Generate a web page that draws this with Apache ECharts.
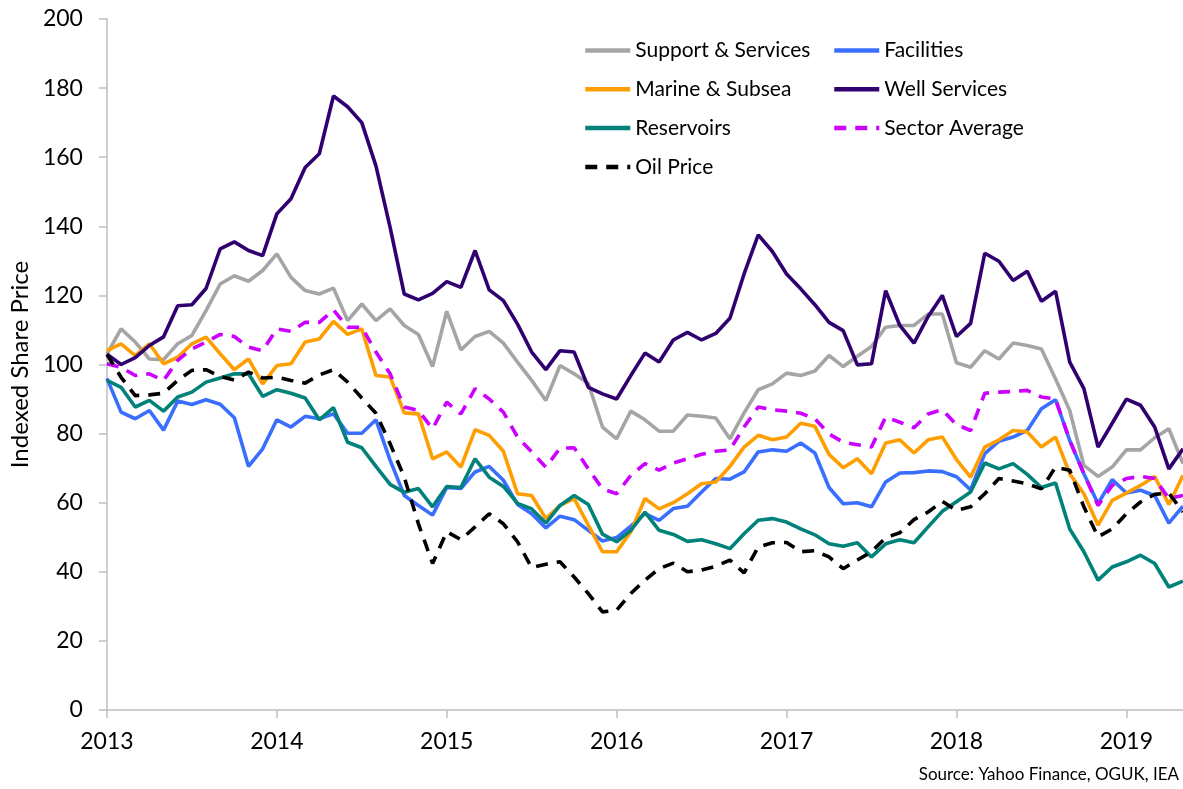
<!DOCTYPE html>
<html>
<head>
<meta charset="utf-8">
<script src="https://cdn.jsdelivr.net/npm/echarts@6/dist/echarts.min.js"></script>
<style>
	html, body { margin: 0; padding: 0; background: #fff; }
	#chart { width: 1183px; height: 789px; }
</style>
</head>
<body>
<div id="chart"></div>
<script>
// monthly points, Jan 2013 .. May 2019
const startYear = 2013;
const monthCount = 77;
const months = [];
for (let i = 0; i < monthCount; i++) {
	months.push((startYear + Math.floor(i / 12)) + '-' + String(i % 12 + 1).padStart(2, '0'));
}

const supportServices = [
	103, 110.3, 106.5, 101.6, 101.4, 106, 108.4, 115.6, 123.3, 125.7, 124.1, 127.2,
	132, 125.2, 121.4, 120.4, 122.1, 112.7, 117.5, 112.7, 116.1, 111.3, 108.7, 99.4,
	115.4, 104.2, 108.1, 109.6, 106.2, 100.7, 95.4, 89.6, 99.7, 97.3, 94.5, 81.9,
	78.5, 86.5, 84, 80.7, 80.7, 85.4, 85, 84.5, 78.5, 86, 92.7, 94.4,
	97.5, 96.8, 98.1, 102.6, 99.4, 102.4, 105.2, 110.8, 111.3, 111.3, 114.6, 114.6,
	100.5, 99.2, 104, 101.6, 106.2, 105.5, 104.5, 95.8, 86.7, 70.8, 67.6, 70.3,
	75.3, 75.3, 78.8, 81.4, 71.3
];
const facilities = [
	96, 86.2, 84.3, 86.7, 81, 89.4, 88.4, 89.8, 88.5, 84.6, 70.5, 75.6,
	84, 81.9, 85, 84.3, 85.7, 80.1, 80.1, 84, 72.3, 62.1, 59.2, 56.4,
	64.4, 64.1, 68.9, 70.5, 66.5, 59.5, 56.8, 52.7, 56.1, 55.1, 52, 48.9,
	49.9, 53.2, 56.8, 54.9, 58.3, 59, 63.1, 67, 66.8, 68.9, 74.7, 75.3,
	74.9, 77.3, 74.4, 64.4, 59.7, 60, 58.8, 66, 68.6, 68.7, 69.2, 69,
	67.5, 63.7, 74.2, 77.8, 79, 80.9, 87.2, 89.8, 78, 68.4, 59.7, 66.7,
	62.8, 63.6, 62.1, 54.1, 59
];
const marineSubsea = [
	104, 106, 102.6, 106, 100.2, 102.1, 106, 107.9, 103.1, 98.5, 101.6, 94.4,
	99.7, 100.2, 106.5, 107.4, 112.5, 108.7, 110.3, 96.8, 96.4, 86, 85.7, 72.7,
	74.7, 70.3, 81.1, 79.5, 74.9, 62.6, 62.1, 55.4, 59.2, 61.2, 53.5, 45.8,
	45.8, 51.6, 61.2, 58.2, 60, 62.6, 65.5, 66, 70.5, 76.1, 79.5, 78.2,
	79, 83, 82.1, 74, 70.1, 72.7, 68.4, 77.3, 78.2, 74.4, 78.2, 79,
	72.5, 67.4, 76.1, 78.2, 80.9, 80.5, 76.1, 79, 68.4, 62.6, 53.5, 60.7,
	62.8, 65, 67.6, 59.5, 67.9
];
const wellServices = [
	103, 100, 102, 105.5, 108, 117, 117.3, 122, 133.5, 135.5, 133, 131.5,
	143.6, 148, 157, 161, 177.7, 174.6, 170, 157.5, 139.7, 120.4, 118.7, 120.6,
	124, 122.3, 133, 121.6, 118.5, 111.7, 103.6, 98.5, 104, 103.6, 93.4, 91.5,
	90, 96.8, 103.3, 100.7, 107.1, 109.3, 107.1, 109, 113.4, 126.2, 137.5, 132.7,
	126.2, 121.9, 117.3, 112.2, 109.8, 99.9, 100.2, 121.4, 111.3, 106.2, 113.9, 120,
	108.1, 111.9, 132.2, 129.9, 124.3, 127, 118.3, 121.2, 100.7, 93, 76.1, 83,
	90, 88.2, 81.9, 69.8, 75.6
];
const reservoirs = [
	95.4, 93.4, 87.7, 89.6, 86.5, 90.6, 92, 94.9, 96.1, 97.3, 97.3, 90.8,
	92.7, 91.7, 90.3, 84, 87.5, 77.5, 75.9, 70.5, 65.3, 63, 64.1, 58.8,
	64.7, 64.4, 72.7, 67.4, 64.7, 59.8, 58.2, 54.1, 59.2, 62.1, 59.5, 50.9,
	48.7, 52, 57.3, 52, 50.8, 48.8, 49.3, 48.1, 46.7, 51, 54.9, 55.4,
	54.4, 52.4, 50.7, 48.1, 47.4, 48.4, 44.3, 48.1, 49.3, 48.4, 53, 57.5,
	60.3, 63.1, 71.5, 69.8, 71.3, 68.2, 64.4, 65.7, 52.4, 45.8, 37.6, 41.4,
	42.9, 44.8, 42.4, 35.6, 37.3
];
const sectorAverage = [
	100.2, 99.2, 96.8, 97.3, 95.4, 101.2, 104.5, 106.5, 108.7, 108.1, 105, 104,
	110.3, 109.6, 112.2, 112.2, 115.8, 110.8, 110.8, 103.6, 97.3, 87.7, 86.7, 81.4,
	89.1, 85.7, 93, 90, 86.2, 79, 74.7, 70.3, 75.8, 75.9, 69.8, 64,
	62.6, 67.9, 71.3, 69.4, 71.5, 72.7, 74, 74.9, 75.3, 81.9, 87.7, 86.9,
	86.5, 85.9, 84.3, 79.9, 77.5, 76.8, 76.1, 84.8, 83.3, 81.7, 85.7, 86.9,
	82.6, 80.9, 91.7, 92, 92.2, 92.5, 90.6, 90, 78, 68.4, 59.2, 65,
	67, 67.6, 67, 61.2, 62.1
];
const oilPrice = [
	102.9, 96.3, 91, 91.2, 91.7, 95.4, 98.3, 98.5, 96.5, 95.5, 97.8, 96.1,
	96.3, 95.4, 94.6, 97, 98.5, 94.9, 90.3, 85.9, 77.1, 67.4, 53.9, 42.4,
	51.6, 49.3, 53, 56.8, 53.9, 48.7, 41.2, 42.2, 42.9, 38.5, 33.7, 28.4,
	28.9, 33.7, 37.6, 40.9, 42.5, 40, 40.5, 41.6, 43.4, 39.7, 47.2, 48.4,
	48.5, 45.8, 46.1, 44.3, 40.9, 43.4, 45.8, 49.9, 51.3, 55.1, 57.3, 60.4,
	57.8, 58.8, 62.6, 67, 66.3, 65.5, 64, 70.3, 69.4, 58.8, 50.1, 52.4,
	56.8, 60.2, 62.4, 62.8, 57.3
];

const font = 'Lato, "Open Sans", sans-serif';

function makeLine(name, data, color, dashed) {
	return {
		name: name,
		type: 'line',
		data: data,
		symbol: 'none',
		smooth: false,
		itemStyle: { color: color },
		lineStyle: {
			color: color,
			width: 3.6,
			type: dashed ? [12, 9] : 'solid',
			cap: 'butt'
		}
	};
}

function makeLegend(left, names) {
	return {
		orient: 'vertical',
		left: left,
		top: 40,
		padding: 0,
		itemWidth: 45,
		itemHeight: 20,
		itemGap: 17.8,
		data: names,
		// hide the circle marker, keep only the line
		itemStyle: { opacity: 0, color: 'rgba(0,0,0,0)', borderWidth: 0 },
		lineStyle: { width: 4.5, type: 'inherit' },
		textStyle: { fontSize: 21, lineHeight: 20, color: '#000', fontFamily: font }
	};
}

const myChart = echarts.init(document.getElementById('chart'));

const option = {
	animation: false,
	backgroundColor: '#fff',
	textStyle: { fontFamily: font },
	grid: {
		left: 106,
		right: 0,
		top: 19,
		bottom: 79
	},
	legend: [
		makeLegend(583, ['Support & Services', 'Marine & Subsea', 'Reservoirs', 'Oil Price']),
		makeLegend(832, ['Facilities', 'Well Services', 'Sector Average'])
	],
	xAxis: {
		type: 'category',
		boundaryGap: false,
		data: months,
		axisLine: { lineStyle: { color: '#BFBFBF', width: 1.5 } },
		axisTick: {
			show: true,
			length: 8,
			interval: function (idx) { return idx % 12 === 0; },
			lineStyle: { color: '#BFBFBF', width: 1.5 }
		},
		axisLabel: {
			interval: function (idx) { return idx % 12 === 0; },
			formatter: function (v) { return v.slice(0, 4); },
			fontSize: 23,
			color: '#000',
			margin: 20,
			fontFamily: font
		},
		splitLine: { show: false }
	},
	yAxis: {
		type: 'value',
		min: 0,
		max: 200,
		interval: 20,
		name: 'Indexed Share Price',
		nameLocation: 'middle',
		nameGap: 74,
		nameTextStyle: { fontSize: 24, color: '#000', fontFamily: font },
		axisLine: { show: true, lineStyle: { color: '#BFBFBF', width: 1.5 } },
		axisTick: { show: true, length: 8, lineStyle: { color: '#BFBFBF', width: 1.5 } },
		axisLabel: { fontSize: 23, color: '#000', margin: 24, fontFamily: font },
		splitLine: { show: false }
	},
	graphic: [
		{
			type: 'text',
			right: 4,
			bottom: 6,
			style: {
				text: 'Source: Yahoo Finance, OGUK, IEA',
				fontSize: 17,
				fill: '#000',
				fontFamily: font
			}
		}
	],
	series: [
		makeLine('Support & Services', supportServices, '#A5A5A5', false),
		makeLine('Facilities', facilities, '#3A6EFF', false),
		makeLine('Marine & Subsea', marineSubsea, '#FF9E00', false),
		makeLine('Well Services', wellServices, '#300070', false),
		makeLine('Reservoirs', reservoirs, '#00817A', false),
		makeLine('Sector Average', sectorAverage, '#CC00FF', true),
		makeLine('Oil Price', oilPrice, '#000000', true)
	]
};

myChart.setOption(option);
</script>
</body>
</html>
